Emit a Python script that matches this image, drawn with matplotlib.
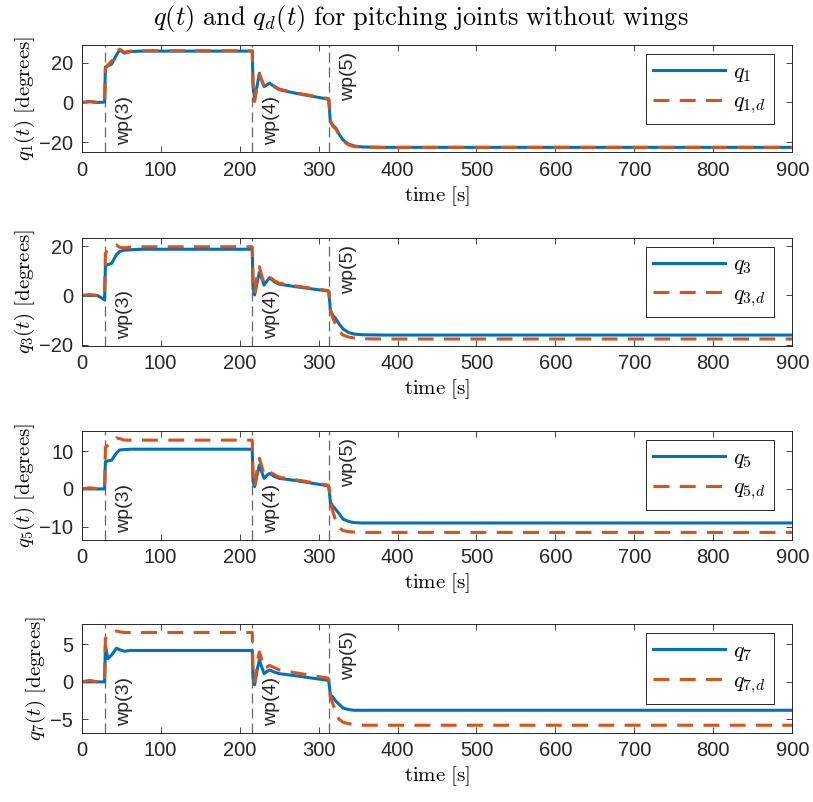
import matplotlib
matplotlib.use("Agg")
import matplotlib.pyplot as plt
import matplotlib.transforms as mtransforms

plt.rcParams["font.family"] = ["Liberation Sans", "DejaVu Sans"]
plt.rcParams["mathtext.fontset"] = "cm"

# time samples [s]
t = [0, 10, 20, 29, 30, 33, 38, 44, 48, 54, 62, 75, 100, 216, 217, 219, 222,
     225, 228, 231, 235, 238, 244, 250, 272, 312, 313, 315, 318, 322, 326,
     331, 338, 345, 355, 380, 900]

q1 = [0, 0.5, 0, 0.2, 18, 18.5, 19.5, 24, 26.6, 25, 25.8, 26, 26, 26, 10, 1.5,
      8, 14.8, 11, 8, 9, 9.8, 8, 6.5, 4.6, 1.7, 1, -10, -11.5, -13, -16, -19,
      -21, -22, -22.5, -22.7, -22.7]
q1_d = [0, 0.4, 0.1, 0, 17, 19, 21, 25, 27, 25.5, 26, 26.2, 26.2, 26.2, 8,
        0.5, 9, 14, 11.5, 8.5, 9.5, 10, 8.3, 6.8, 4.8, 2.0, 1.5, -9, -12,
        -13.5, -16.5, -19.5, -21.5, -22.3, -22.6, -22.7, -22.7]

q3 = [0, 0, 0, -1.8, 12, 12.5, 13, 16.5, 17.8, 18.3, 18.5, 18.7, 18.7, 18.7,
      3, 0.2, 5, 9.4, 7, 4.2, 6, 7.2, 5.5, 4.6, 3.5, 1.8, 1.5, -6, -8, -9.5,
      -11.5, -13.5, -15, -15.6, -15.9, -16, -16]
q3_d = [0, 0.4, 0, 0, 17, 18.5, 19.5, 20.4, 19.5, 19.3, 19.6, 19.7, 19.7,
        19.7, 4, 0.9, 8, 11.6, 8, 5, 6.5, 7.5, 6, 5, 3.8, 2, 1.7, -6, -9, -12,
        -14.6, -16, -16.8, -17.2, -17.5, -17.6, -17.6]

q5 = [0, 0, 0, 0, 7.2, 7.4, 7.6, 9.5, 10.3, 10.4, 10.5, 10.5, 10.5, 10.5, 2,
      0.6, 3.5, 6.3, 4.5, 2.8, 3.7, 4.1, 3.3, 2.8, 2.2, 0.8, 0.5, -3.5, -4.5,
      -5.5, -6.5, -8, -8.6, -8.9, -9, -9, -9]
q5_d = [0, 0.3, 0, 0, 11, 11.5, 12.5, 13.5, 13.3, 12.9, 12.9, 12.9, 12.9,
        12.9, 3, 0.6, 5, 8.1, 6, 3.7, 4.2, 4.5, 3.8, 3.1, 2.4, 1, 0.8, -3.5,
        -6, -8.5, -10.3, -11, -11.3, -11.4, -11.5, -11.5, -11.5]

q7 = [0, 0, 0, 0, 4.9, 3.1, 3.6, 4.5, 4.3, 4.1, 4.2, 4.2, 4.2, 4.2, 0.5, -0.4,
      1.5, 2.9, 2, 1.1, 1.4, 1.6, 1.3, 1.1, 0.8, 0.2, 0, -1.8, -2.0, -2.6,
      -3.0, -3.5, -3.7, -3.8, -3.8, -3.8, -3.8]
q7_d = [0, 0.2, 0, 0, 5.8, 6.2, 6.6, 6.8, 6.7, 6.6, 6.6, 6.6, 6.6, 6.6, 1.5,
        0, 2.5, 4.0, 3, 1.8, 2.0, 2.2, 1.9, 1.6, 1.2, 0.5, 0.3, -2, -2.9, -4.2,
        -5.0, -5.4, -5.6, -5.7, -5.8, -5.8, -5.8]

waypoints = [30, 216, 313]
wp_labels = ["wp(3)", "wp(4)", "wp(5)"]
wp_on_top = [False, False, True]

joints = ["1", "3", "5", "7"]
actual = [q1, q3, q5, q7]
desired = [q1_d, q3_d, q5_d, q7_d]
y_limits = [(-25.2, 29.1), (-20.3, 23.4), (-13.5, 15.4), (-6.8, 7.7)]
y_ticks = [[-20, 0, 20], [-20, 0, 20], [-10, 0, 10], [-5, 0, 5]]
x_ticks = list(range(0, 901, 100))

blue = "#0072BD"
orange = "#D95319"
dark = "#262626"

fig = plt.figure(figsize=(8.13, 8.02), dpi=100)
boxes = [(0.8101, 0.1338), (0.5690, 0.1347), (0.3267, 0.1363), (0.0864, 0.1352)]

for i, (y0, h) in enumerate(boxes):
    ax = fig.add_axes([0.1005, y0, 0.874, h])
    j = joints[i]

    ax.plot(t, actual[i], color=blue, lw=2.2, label=rf"$q_{j}$")
    ax.plot(t, desired[i], color=orange, lw=2.2, dashes=(5.2, 3.4),
            label=rf"$q_{{{j},\!d}}$")

    trans = mtransforms.blended_transform_factory(ax.transData, ax.transAxes)
    for tw, lab, top in zip(waypoints, wp_labels, wp_on_top):
        ax.axvline(tw, color="0.4", lw=0.9, dashes=(8, 4), zorder=0)
        if top:
            ax.annotate(lab, xy=(tw, 1), xycoords=trans, xytext=(8, -5),
                        textcoords="offset points", rotation=90, ha="left",
                        va="top", fontsize=14, color=dark)
        else:
            ax.annotate(lab, xy=(tw, 0), xycoords=trans, xytext=(8, 5),
                        textcoords="offset points", rotation=90, ha="left",
                        va="bottom", fontsize=14, color=dark)

    ax.set_xlim(0, 900)
    ax.set_ylim(*y_limits[i])
    ax.set_xticks(x_ticks)
    ax.set_yticks(y_ticks[i])
    ax.tick_params(direction="in", top=True, right=True, length=4, width=0.6,
                   labelsize=14.5, colors=dark, pad=6)
    for s in ax.spines.values():
        s.set_color(dark)
        s.set_linewidth(0.7)

    ax.set_xlabel(r"$\mathrm{time\ [s]}$", fontsize=15, color="black",
                  labelpad=3)
    ax.set_ylabel(rf"$q_{j}(t)\ \mathrm{{[degrees]}}$", fontsize=15,
                  color="black", labelpad=2)

    leg = ax.legend(loc="upper right", bbox_to_anchor=(0.974, 0.916),
                    borderaxespad=0, fancybox=False, framealpha=1,
                    edgecolor=dark, fontsize=16, handlelength=3.2,
                    handletextpad=0.4, labelspacing=0.35, borderpad=0.35)
    leg.get_frame().set_linewidth(0.7)

fig.suptitle(r"$q(t)\ \mathrm{and}\ q_d(t)\ \mathrm{for\ pitching\ joints\ without\ wings}$",
             x=0.517, y=0.996, fontsize=19)

fig.savefig("out.png", dpi=100)
